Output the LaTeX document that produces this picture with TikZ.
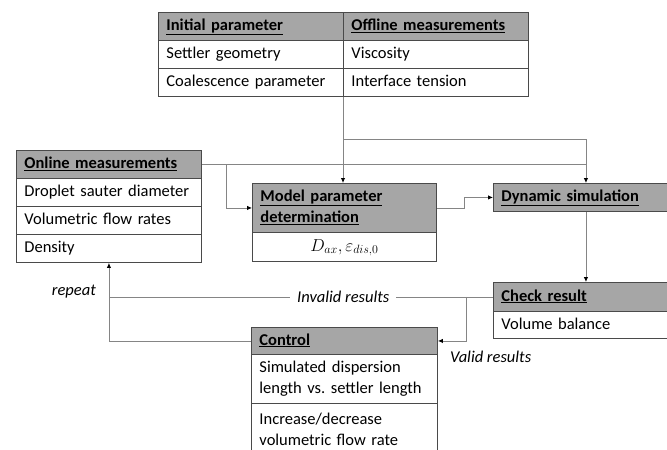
\documentclass[tikz,border=0pt]{standalone}
\usepackage{fontspec}
\setmainfont{Carlito}
\usetikzlibrary{arrows.meta,calc}
\definecolor{boxline}{HTML}{4A4A4A}
\definecolor{hdrfill}{HTML}{A6A6A6}
\definecolor{wirecol}{HTML}{858585}
\newcommand{\cellfont}{\fontsize{16.5}{21}\selectfont\hyphenpenalty=10000\relax}
\tikzset{
  cell/.style={draw=boxline, line width=0.9pt, fill=white, anchor=north west,
    inner xsep=8pt, inner ysep=0pt, align=left, font=\cellfont,
    execute at begin node=\strut, execute at end node=\strut},
  hdr/.style={cell, fill=hdrfill, font=\cellfont\bfseries},
  sz/.style 2 args={text width=#1, minimum height=#2},
  wire/.style={draw=wirecol, line width=0.9pt},
  arr/.style={wire, -{Latex[length=5pt,width=4.5pt,color=black]}},
  lbl/.style={font=\fontsize{16.5}{21}\selectfont\itshape, inner sep=0pt}
}
\begin{document}
\begin{tikzpicture}[x=1pt,y=-1pt]
\useasboundingbox (0,0) rectangle (667,450);
\clip (0,0) rectangle (667,450);

% parameter table
\node[hdr, sz={169pt}{28pt}] (t11) at (158,12) {\underline{Initial parameter}};
\node[hdr, sz={169pt}{28pt}] (t12) at (343,12) {\underline{Offline measurements}};
\node[cell, sz={169pt}{28pt}] (t21) at (158,40) {Settler geometry};
\node[cell, sz={169pt}{28pt}] (t22) at (343,40) {Viscosity};
\node[cell, sz={169pt}{28pt}] (t31) at (158,68) {Coalescence parameter};
\node[cell, sz={169pt}{28pt}] (t32) at (343,68) {Interface tension};

% online measurements
\node[hdr, sz={169pt}{28pt}] (on1) at (16,150) {\underline{Online measurements}};
\node[cell, sz={169pt}{28pt}] (on2) at (16,178) {Droplet sauter diameter};
\node[cell, sz={169pt}{28pt}] (on3) at (16,206) {Volumetric flow rates};
\node[cell, sz={169pt}{28pt}] (on4) at (16,234) {Density};

% model parameter determination
\node[hdr, sz={168pt}{49pt}] (mp1) at (252,183) {\underline{Model parameter}\\\underline{determination}};
\node[cell, sz={168pt}{29pt}, align=center] (mp2) at (252,232) {$D_{ax}, \varepsilon_{dis,0}$};

% simulation and check
\node[hdr, sz={169pt}{28pt}] (ds) at (493,183) {\underline{Dynamic simulation}};
\node[hdr, sz={169pt}{29pt}] (cr1) at (493,282) {\underline{Check result}};
\node[cell, sz={169pt}{27pt}] (cr2) at (493,311) {Volume balance};

% control
\node[hdr, sz={170pt}{27pt}] (ct1) at (251,327) {\underline{Control}};
\node[cell, sz={170pt}{49pt}] (ct2) at (251,354) {Simulated dispersion\\length vs.\ settler length};
\node[cell, sz={170pt}{54pt}] (ct3) at (251,403) {Increase/decrease\\volumetric flow rate};

% connectors
\draw[arr] (t32.south west) -- (t32.south west |- mp1.north);
\draw[arr] ($(t32.south west)+(0,43)$) -| (ds.north);
\draw[wire] (on1.east) -- (on1.east -| ds.north);
\draw[arr] ($(on1.east)+(25,0)$) |- (mp1.west);
\draw[arr] (mp1.east) -- ++(28,0) |- (ds.west);
\draw[arr] (ds.south) -- (cr1.north);
\draw[wire] (cr1.west) -- node[pos=0.39, lbl, fill=white, inner xsep=7pt] {Invalid results} (cr1.west -| on4.south);
\draw[arr] (ct1.west) -| (on4.south);
\draw[arr] ($(cr1.west)+(-27,0)$) |- (ct1.east);

% labels
\node[lbl, anchor=east] (rep) at (96,292) {repeat};
\node[lbl, anchor=west] (val) at (450,357) {Valid results};
\end{tikzpicture}
\end{document}
